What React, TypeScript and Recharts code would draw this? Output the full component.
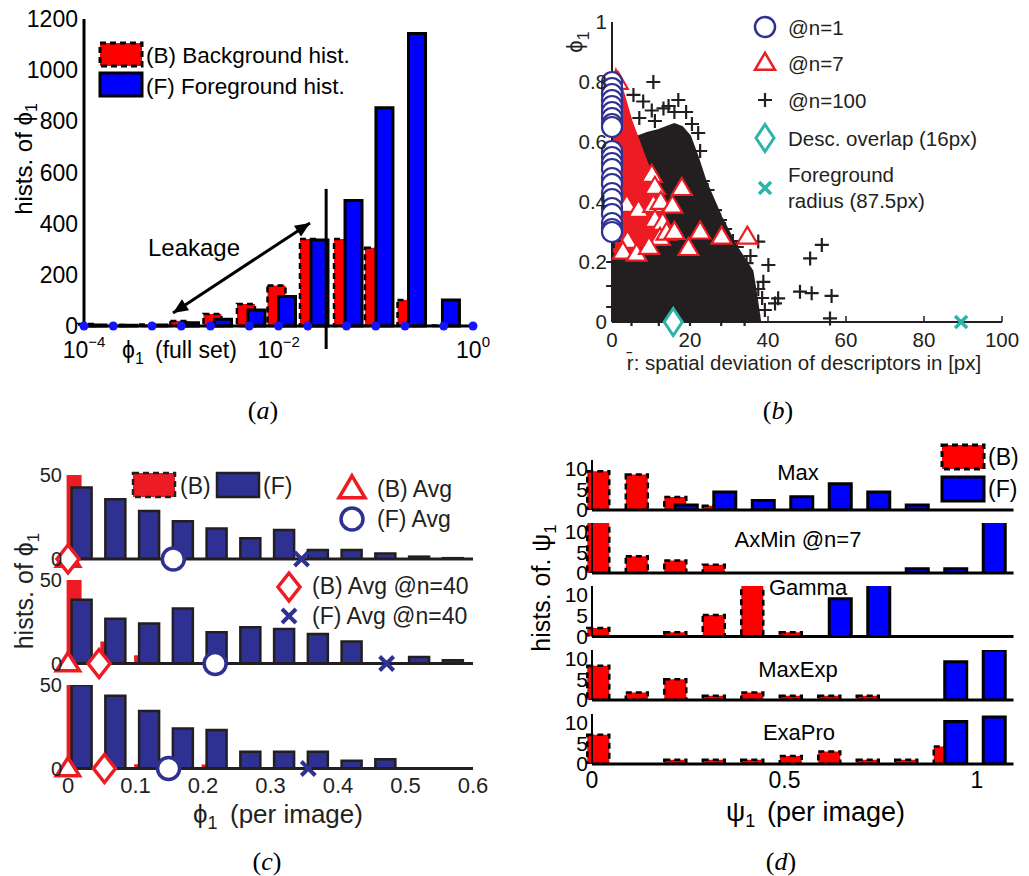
import React from 'react';
import { ComposedChart, Bar, XAxis, YAxis, Scatter, ReferenceLine, Area } from 'recharts';

const SANS = '"Liberation Sans", Arial, "DejaVu Sans", sans-serif';
const SERIF = '"Liberation Serif", "DejaVu Serif", serif';
const INK = '#231f20';
const NAVY = '#2e3192';
const RED = '#ed1c24';
const CYAN = '#2bb5a9';

// ---------- (a) full set, x in log10 units ----------
const aBinX = [-3.918, -3.599, -3.29, -2.967, -2.627, -2.283, -1.969, -1.635, -1.285, -0.967, -0.632, -0.283];
const aBack = [8, 4, 6, 20, 47, 86, 158, 340, 340, 306, 102, 2];
const aFore = [4, 3, 4, 13, 26, 63, 115, 336, 491, 853, 1143, 102];
const aEdges = [-4, -3.699, -3.301, -3, -2.699, -2.301, -2, -1.699, -1.301, -1, -0.699, -0.301, 0];
const aXTicks = [-4, -2, 0];
const aYTicks = [0, 200, 400, 600, 800, 1000, 1200];
const aSplit = { x: -1.51, top: 536, bottom: -90 };
const aArrow = { x1: -3.085, y1: 51, x2: -1.676, y2: 403 };

// ---------- (b) phi vs spatial deviation ----------
const bXTicks = [0, 20, 40, 60, 80, 100];
const bYTicks = [0, 0.2, 0.4, 0.6, 0.8, 1];
const bRingY = [0.8, 0.78, 0.76, 0.74, 0.72, 0.7, 0.68, 0.66, 0.65, 0.57, 0.55, 0.53, 0.51, 0.48, 0.46, 0.43, 0.41, 0.38, 0.36, 0.33, 0.31, 0.3];
// dense cloud of @n=100 (upper edge) and the dense @n=7 core (low, high)
const bCloudX = [0, 1, 3, 5, 7, 9, 12, 14, 16, 18, 20, 22, 24, 26, 28, 30, 32, 34, 36, 37, 38];
const bCloudY = [0.3, 0.6, 0.6, 0.61, 0.62, 0.63, 0.64, 0.65, 0.66, 0.65, 0.62, 0.55, 0.47, 0.41, 0.35, 0.3, 0.25, 0.21, 0.17, 0.09, 0];
const bCoreLo = [0.24, 0.23, 0.23, 0.24, 0.25, 0.26, 0.27, 0.28];
const bCoreHi = [0.8, 0.84, 0.76, 0.67, 0.6, 0.53, 0.45, 0.33];
const bTri: [number, number][] = [
  [1.5, 0.8], [10.2, 0.49], [11, 0.45], [3.8, 0.39], [6.8, 0.373], [10.6, 0.39], [12.5, 0.4], [15.5, 0.387],
  [17.9, 0.446], [11, 0.34], [13, 0.33], [12.3, 0.28], [14, 0.297], [16, 0.3], [4, 0.27], [2.8, 0.234],
  [6.3, 0.227], [9.5, 0.25], [22.6, 0.301], [28.1, 0.284], [34.7, 0.284], [19.6, 0.246],
];
const bPlus: [number, number][] = [
  [10.6, 0.8], [5.5, 0.757], [8, 0.735], [17, 0.74], [14.5, 0.72], [13.2, 0.712], [10.2, 0.705], [19, 0.7],
  [16, 0.7], [7, 0.68], [11, 0.67], [20.5, 0.66], [22.1, 0.63], [22.6, 0.57], [20.4, 0.53], [23.3, 0.47],
  [24.5, 0.44], [26.4, 0.373], [27.7, 0.34], [29, 0.31], [31, 0.27], [32, 0.25], [34.5, 0.196], [35.5, 0.22],
  [37.5, 0.268], [40.1, 0.19], [38.8, 0.134], [37.5, 0.11], [39.2, 0.04], [36.2, 0.023], [41.8, 0.062],
  [42.6, 0.079], [48.2, 0.101], [51.2, 0.096], [56.3, 0.087], [55.9, 0.012], [50.8, 0.212], [53.8, 0.257],
  [38.5, 0.08], [0.3, 0.05], [0.3, 0.12], [0.3, 0.2], [0.5, 0.27], [5, 0.01], [12, 0.01], [20, 0.01],
  [28, 0.01], [34, 0.01],
];
const bOverlap = 15.7;
const bRadius = 89.5;

// ---------- (c) per image, three rows ----------
const cBinX = [0.017, 0.067, 0.117, 0.167, 0.217, 0.267, 0.317, 0.367, 0.417, 0.467, 0.517, 0.567];
const cXTicks = [0, 0.1, 0.2, 0.3, 0.4, 0.5, 0.6];
const cBack = [
  [60, 0, 0, 0, 0, 0, 0, 0, 0, 0, 0, 0],
  [60, 13.2, 4.9, 0, 0, 0, 0, 0, 0, 0, 0, 0],
  [60, 7, 2.6, 0, 2.4, 0, 0, 0, 0, 0, 0, 0],
];
const cFore = [
  [42.6, 35.5, 28.6, 22.4, 18.2, 12.3, 17.3, 5.4, 5.4, 3.3, 1.4, 0.5],
  [38.2, 26.8, 24, 32.9, 18.7, 21.7, 20.7, 17.7, 13.2, 0, 3.9, 2],
  [50, 43.6, 34.4, 24, 23, 10, 10, 10, 4.6, 5.6, 0, 0],
];
const cAvgB = [0, 0, 0];
const cAvgF = [0.156, 0.218, 0.149];
const cAvgB40 = [0, 0.046, 0.054];
const cAvgF40 = [0.346, 0.472, 0.356];

// ---------- (d) psi per image, five methods ----------
const dBinX = [0.03, 0.13, 0.23, 0.33, 0.43, 0.53, 0.63, 0.73, 0.83, 0.93, 1.03];
const dTitles = ['Max', 'AxMin @n=7', 'Gamma', 'MaxExp', 'ExaPro'];
const dBack = [
  [9.3, 8.5, 3.1, 1, 0, 0, 0, 0, 0, 0, 0],
  [13, 4, 3, 2, 0, 0, 0, 0, 0, 0, 0],
  [2, 0, 1, 5.1, 13, 1, 0, 0, 0, 0, 0],
  [8.2, 1.8, 5, 1, 1.8, 1, 1, 1, 0, 0, 0],
  [7, 0, 1, 1, 1, 1.9, 3, 1, 1, 4.2, 0],
];
const dFore = [
  [0, 0, 1.2, 4.3, 2.3, 3.2, 6.3, 4.3, 1.2, 0, 0],
  [0, 0, 0, 0, 0, 0, 0, 0, 1, 1, 13],
  [0, 0, 0, 0, 0, 0, 9, 13, 0, 0, 0],
  [0, 0, 0, 0, 0, 0, 0, 0, 0, 9.2, 12],
  [0, 0, 0, 0, 0, 0, 0, 0, 0, 10.2, 11.3],
];
const dXTicks = [0, 0.5, 1];
const dYTicks = [0, 5, 10];

// layout of the stacked rows (px)
const cTop = [474.5, 580, 685];
const cBot = [558.5, 663.5, 768.5];
const dTop = [459.5, 522.5, 586, 650, 714];
const dBot = [509.5, 572.5, 636.5, 700, 764];

const triPts = (cx: number, cy: number, w: number, h: number) =>
  `${cx},${cy - h * 0.6} ${cx + w / 2},${cy + h * 0.4} ${cx - w / 2},${cy + h * 0.4}`;
const diaPts = (cx: number, cy: number, w: number, h: number) =>
  `${cx},${cy - h / 2} ${cx + w / 2},${cy} ${cx},${cy + h / 2} ${cx - w / 2},${cy}`;
const crossD = (cx: number, cy: number, s: number) =>
  `M${cx - s},${cy - s}L${cx + s},${cy + s}M${cx - s},${cy + s}L${cx + s},${cy - s}`;
const plusD = (cx: number, cy: number, s: number) => `M${cx - s},${cy}H${cx + s}M${cx},${cy - s}V${cy + s}`;

const Dot = (p: any) => <circle cx={p.cx} cy={p.cy} r={4.5} fill="#1414ff" />;
const PlusB = (p: any) => <path d={plusD(p.cx, p.cy, 7)} stroke={INK} strokeWidth={2.2} fill="none" />;
const TriB = (p: any) => <polygon points={triPts(p.cx, p.cy, 20, 17)} fill="#fff" stroke={RED} strokeWidth={2.2} />;
const RingB = (p: any) => <circle cx={p.cx} cy={p.cy} r={10} fill="#fff" stroke={NAVY} strokeWidth={2.2} />;
const DiaB = (p: any) => <polygon points={diaPts(p.cx, p.cy, 18, 27)} fill="#fff" stroke={CYAN} strokeWidth={3} />;
const CrossB = (p: any) => <path d={crossD(p.cx, p.cy, 6)} stroke={CYAN} strokeWidth={3.5} fill="none" />;
const TriC = (p: any) => <polygon points={triPts(p.cx, p.cy, 23, 18)} fill="#fff" stroke={RED} strokeWidth={3.5} />;
const DiaC = (p: any) => <polygon points={diaPts(p.cx, p.cy, 22, 28)} fill="#fff" stroke={RED} strokeWidth={3.5} />;
const RingC = (p: any) => <circle cx={p.cx} cy={p.cy} r={11} fill="#fff" stroke={NAVY} strokeWidth={3.5} />;
const CrossC = (p: any) => <path d={crossD(p.cx, p.cy, 7)} stroke={NAVY} strokeWidth={4} fill="none" />;

function ArrowShape(p: any) {
  const { x1, y1, x2, y2 } = p;
  const a = Math.atan2(y2 - y1, x2 - x1);
  const head = (x: number, y: number, ang: number) => {
    const L = 15, W = 6.5;
    const bx = x - L * Math.cos(ang), by = y - L * Math.sin(ang);
    return `${x},${y} ${bx + W * Math.sin(ang)},${by - W * Math.cos(ang)} ${bx - W * Math.sin(ang)},${by + W * Math.cos(ang)}`;
  };
  return (
    <g>
      <line x1={x1} y1={y1} x2={x2} y2={y2} stroke="#000" strokeWidth={3} />
      <polygon points={head(x2, y2, a)} fill="#000" />
      <polygon points={head(x1, y1, a + Math.PI)} fill="#000" />
    </g>
  );
}

function PowTick(p: any) {
  const e = String(p.payload.value).replace('-', '\u2212');
  return (
    <text x={p.x} y={p.y + 22} textAnchor="middle" fontFamily={SANS} fontSize={23} fill="#000">
      10<tspan dy={-11} fontSize={15}>{e}</tspan>
    </text>
  );
}

function Frame({ left, top, right, bottom, padL, padB, data, barGap, children }: any) {
  const padT = 14, padR = 14;
  return (
    <div style={{ position: 'absolute', left: left - padL, top: top - padT }}>
      <ComposedChart width={right - left + padL + padR} height={bottom - top + padT + padB} data={data}
        barGap={barGap} margin={{ top: padT, right: padR, left: 0, bottom: 0 }}>
        {children}
      </ComposedChart>
    </div>
  );
}

function PanelA() {
  const rows = aBinX.map((x, i) => ({ x, back: aBack[i], fore: aFore[i] }));
  const edges = aEdges.map((x) => ({ x, y: 0 }));
  return (
    <Frame left={84} top={19} right={473} bottom={326} padL={84} padB={50} data={rows} barGap={-7}>
      <XAxis type="number" dataKey="x" domain={[-4, 0]} ticks={aXTicks} interval={0} height={50}
        tickLine={false} tickSize={0} tickMargin={10} tick={(p: any) => <PowTick {...p} />}
        axisLine={{ stroke: '#000', strokeWidth: 3 }} />
      <XAxis xAxisId="m" type="number" dataKey="x" domain={[-4, 0]} hide />
      <YAxis type="number" domain={[0, 1200]} ticks={aYTicks} interval={0} width={84}
        tickLine={false} tickSize={0} tickMargin={6} tick={{ fill: '#000', fontSize: 23, fontFamily: SANS }}
        axisLine={{ stroke: '#000', strokeWidth: 3 }} />
      <YAxis yAxisId="m" type="number" dataKey="y" domain={[0, 1200]} hide />
      <Bar dataKey="back" barSize={18} fill="#ff0000" stroke="#000" strokeWidth={2.5} strokeDasharray="6 4" isAnimationActive={false} />
      <Bar dataKey="fore" barSize={17} fill="#0000ff" stroke="#000" strokeWidth={3} isAnimationActive={false} />
      <Scatter xAxisId="m" yAxisId="m" data={edges} dataKey="y" shape={Dot} isAnimationActive={false} />
      <ReferenceLine segment={[{ x: aSplit.x, y: aSplit.top }, { x: aSplit.x, y: aSplit.bottom }]}
        stroke="#000" strokeWidth={3} ifOverflow="visible" />
      <ReferenceLine segment={[{ x: aArrow.x1, y: aArrow.y1 }, { x: aArrow.x2, y: aArrow.y2 }]}
        ifOverflow="visible" shape={ArrowShape} />
    </Frame>
  );
}

function PanelB() {
  const rows = bCloudX.map((x, i) => ({
    x,
    cloud: bCloudY[i],
    core: i < bCoreLo.length ? [bCoreLo[i], bCoreHi[i]] : undefined,
  }));
  const toPts = (list: [number, number][]) => list.map(([x, y]) => ({ x, y }));
  const tick = { fill: INK, fontSize: 20.5, fontFamily: SANS };
  return (
    <Frame left={612} top={22} right={1002} bottom={322} padL={50} padB={34} data={rows}>
      <XAxis type="number" dataKey="x" domain={[0, 100]} ticks={bXTicks} interval={0} height={34}
        tickSize={-6} tickMargin={16} tickLine={{ stroke: INK, strokeWidth: 1.5 }} tick={tick}
        axisLine={{ stroke: INK, strokeWidth: 2 }} />
      <YAxis type="number" domain={[0, 1]} ticks={bYTicks} interval={0} width={50}
        tickLine={false} tickSize={0} tickMargin={5} tick={tick} axisLine={{ stroke: INK, strokeWidth: 2 }} />
      <YAxis yAxisId="m" type="number" dataKey="y" domain={[0, 1]} hide />
      <Area dataKey="cloud" type="linear" fill={INK} fillOpacity={1} stroke={INK} strokeWidth={2}
        dot={false} activeDot={false} isAnimationActive={false} />
      <Scatter yAxisId="m" data={toPts(bPlus)} dataKey="y" shape={PlusB} isAnimationActive={false} />
      <Area dataKey="core" type="linear" fill={RED} fillOpacity={1} stroke={RED} strokeWidth={2}
        dot={false} activeDot={false} isAnimationActive={false} />
      <Scatter yAxisId="m" data={toPts(bTri)} dataKey="y" shape={TriB} isAnimationActive={false} />
      <Scatter yAxisId="m" data={bRingY.map((y) => ({ x: 0, y }))} dataKey="y" shape={RingB} isAnimationActive={false} />
      <Scatter yAxisId="m" data={[{ x: bOverlap, y: 0 }]} dataKey="y" shape={DiaB} isAnimationActive={false} />
      <Scatter yAxisId="m" data={[{ x: bRadius, y: 0 }]} dataKey="y" shape={CrossB} isAnimationActive={false} />
    </Frame>
  );
}

function PanelC() {
  const tick = { fill: INK, fontSize: 22, fontFamily: SANS };
  return (
    <>
      {cTop.map((top, i) => {
        const rows = cBinX.map((x, j) => ({ x, back: cBack[i][j], fore: cFore[i][j] }));
        const last = i === cTop.length - 1;
        return (
          <Frame key={i} left={68} top={top} right={473} bottom={cBot[i]} padL={50} padB={last ? 34 : 10}
            data={rows} barGap={-10}>
            <XAxis type="number" dataKey="x" domain={[0, 0.6]} ticks={cXTicks} interval={0} height={last ? 34 : 10}
              tickLine={false} tickSize={0} tickMargin={9} tick={last ? tick : false}
              axisLine={{ stroke: INK, strokeWidth: 3 }} />
            <XAxis xAxisId="m" type="number" dataKey="x" domain={[0, 0.6]} hide />
            <YAxis type="number" domain={[0, 50]} allowDataOverflow ticks={[0, 50]} interval={0} width={50}
              tickLine={false} tickSize={0} tickMargin={6} tick={{ ...tick, fontSize: 20 }} axisLine={false} />
            <YAxis yAxisId="m" type="number" dataKey="y" domain={[0, 50]} hide />
            <Bar dataKey="back" barSize={15} fill={RED} isAnimationActive={false} />
            <Bar dataKey="fore" barSize={20} fill={NAVY} stroke={INK} strokeWidth={2.5} isAnimationActive={false} />
            <Scatter xAxisId="m" yAxisId="m" data={[{ x: cAvgB[i], y: 0 }]} dataKey="y" shape={TriC} isAnimationActive={false} />
            <Scatter xAxisId="m" yAxisId="m" data={[{ x: cAvgB40[i], y: 0 }]} dataKey="y" shape={DiaC} isAnimationActive={false} />
            <Scatter xAxisId="m" yAxisId="m" data={[{ x: cAvgF[i], y: 0 }]} dataKey="y" shape={RingC} isAnimationActive={false} />
            <Scatter xAxisId="m" yAxisId="m" data={[{ x: cAvgF40[i], y: 0 }]} dataKey="y" shape={CrossC} isAnimationActive={false} />
          </Frame>
        );
      })}
    </>
  );
}

function PanelD() {
  const tick = { fill: '#000', fontSize: 21, fontFamily: SANS };
  return (
    <>
      {dTop.map((top, i) => {
        const rows = dBinX.map((x, j) => ({ x, back: dBack[i][j], fore: dFore[i][j] }));
        const last = i === dTop.length - 1;
        return (
          <Frame key={i} left={592} top={top} right={1013.5} bottom={dBot[i]} padL={40} padB={last ? 34 : 8}
            data={rows} barGap={-11}>
            <XAxis type="number" dataKey="x" domain={[0, 1.095]} ticks={dXTicks} interval={0} height={last ? 34 : 8}
              tickLine={false} tickSize={0} tickMargin={8} tick={last ? { ...tick, fontSize: 23 } : false}
              axisLine={{ stroke: '#000', strokeWidth: 3 }} />
            <YAxis type="number" domain={[0, 12]} allowDataOverflow ticks={dYTicks} interval={0} width={40}
              tickLine={false} tickSize={0} tickMargin={4} tick={tick} axisLine={{ stroke: '#000', strokeWidth: 2 }} />
            <Bar dataKey="back" barSize={22} fill="#ff0000" stroke="#000" strokeWidth={2.5} strokeDasharray="6 4" isAnimationActive={false} />
            <Bar dataKey="fore" barSize={22} fill="#0000ff" stroke="#000" strokeWidth={3} isAnimationActive={false} />
          </Frame>
        );
      })}
    </>
  );
}

function T({ x, y, size = 23, anchor = 'start', fill = '#000', rotate, family = SANS, children }: any) {
  return (
    <text x={x} y={y} fontSize={size} textAnchor={anchor} fill={fill} fontFamily={family} dominantBaseline="central"
      transform={rotate ? `rotate(${rotate} ${x} ${y})` : undefined}>
      {children}
    </text>
  );
}

function Caption({ x, y, letter }: any) {
  return (
    <T x={x} y={y} size={26} anchor="middle" family={SERIF}>
      (<tspan fontStyle="italic">{letter}</tspan>)
    </T>
  );
}

function Overlay() {
  return (
    <svg width={1029} height={876} style={{ position: 'absolute', left: 0, top: 0, pointerEvents: 'none' }}>
      {/* (a) */}
      <rect x={100} y={43} width={42} height={23} fill="#ff0000" stroke="#000" strokeWidth={3} strokeDasharray="6 4" />
      <T x={146} y={55} size={22.5}>(B) Background hist.</T>
      <rect x={100} y={73} width={42} height={23} fill="#0000ff" stroke="#000" strokeWidth={3} />
      <T x={146} y={86} size={22.5}>(F) Foreground hist.</T>
      <T x={194} y={247} size={24} anchor="middle">Leakage</T>
      <T x={23} y={159} size={24} anchor="middle" rotate={-90}>hists. of ϕ<tspan dy={8} fontSize={16}>1</tspan></T>
      <T x={122} y={350}>ϕ<tspan dy={8} fontSize={16}>1</tspan><tspan x={155} dy={-8}>(full set)</tspan></T>
      <Caption x={263} y={410} letter="a" />

      {/* (b) */}
      <circle cx={765} cy={27} r={10} fill="#fff" stroke={NAVY} strokeWidth={2.5} />
      <T x={788} y={27} size={20.5} fill={INK}>@n=1</T>
      <polygon points={triPts(765, 63, 20, 17)} fill="#fff" stroke={RED} strokeWidth={2.5} />
      <T x={788} y={63} size={20.5} fill={INK}>@n=7</T>
      <path d={plusD(765, 100, 7)} stroke={INK} strokeWidth={2.2} />
      <T x={788} y={100} size={20.5} fill={INK}>@n=100</T>
      <polygon points={diaPts(765, 138, 18, 27)} fill="#fff" stroke={CYAN} strokeWidth={3} />
      <T x={788} y={138} size={20.5} fill={INK}>Desc. overlap (16px)</T>
      <path d={crossD(765, 188, 6)} stroke={CYAN} strokeWidth={3.5} />
      <T x={788} y={174} size={20.5} fill={INK}>Foreground</T>
      <T x={788} y={200} size={20.5} fill={INK}>radius (87.5px)</T>
      <T x={574} y={42} size={22} anchor="middle" fill={INK} rotate={-90}>ϕ<tspan dy={9} fontSize={16}>1</tspan></T>
      <T x={804} y={362} size={20.5} anchor="middle" fill={INK}>r̄: spatial deviation of descriptors in [px]</T>
      <Caption x={778} y={410} letter="b" />

      {/* (c) */}
      <rect x={133} y={473} width={42} height={24} fill={RED} stroke={INK} strokeWidth={2.5} strokeDasharray="6 4" />
      <T x={180} y={486} fill={INK}>(B)</T>
      <rect x={217} y={473} width={42} height={24} fill={NAVY} stroke={INK} strokeWidth={2.5} />
      <T x={263} y={486} fill={INK}>(F)</T>
      <polygon points={triPts(352, 489, 26, 22)} fill="#fff" stroke={RED} strokeWidth={3.5} />
      <T x={377} y={489} fill={INK}>(B) Avg</T>
      <circle cx={352} cy={519} r={11} fill="#fff" stroke={NAVY} strokeWidth={3.5} />
      <T x={377} y={519} fill={INK}>(F) Avg</T>
      <polygon points={diaPts(289, 587, 22, 28)} fill="#fff" stroke={RED} strokeWidth={3.5} />
      <T x={312} y={586} fill={INK}>(B) Avg @n=40</T>
      <path d={crossD(289, 616, 7)} stroke={NAVY} strokeWidth={4} />
      <T x={312} y={616} fill={INK}>(F) Avg @n=40</T>
      <T x={24} y={591} size={25} anchor="middle" fill={INK} rotate={-90}>hists. of ϕ<tspan dy={9} fontSize={17}>1</tspan></T>
      <T x={193} y={814} size={26} fill={INK}>ϕ<tspan dy={9} fontSize={18}>1</tspan><tspan x={230} dy={-9}>(per image)</tspan></T>
      <Caption x={267} y={861} letter="c" />

      {/* (d) */}
      <rect x={942} y={445} width={42} height={24} fill="#ff0000" stroke="#000" strokeWidth={3} strokeDasharray="6 4" />
      <T x={988} y={457}>(B)</T>
      <rect x={942} y={477} width={42} height={24} fill="#0000ff" stroke="#000" strokeWidth={3} />
      <T x={988} y={489}>(F)</T>
      <T x={798} y={472} size={22} anchor="middle">{dTitles[0]}</T>
      <T x={798} y={539} size={22} anchor="middle">{dTitles[1]}</T>
      <T x={808} y={587} size={22} anchor="middle">{dTitles[2]}</T>
      <T x={798} y={669} size={22} anchor="middle">{dTitles[3]}</T>
      <T x={799} y={732} size={22} anchor="middle">{dTitles[4]}</T>
      <T x={541} y={588} size={25} anchor="middle" rotate={-90}>hists. of. ψ<tspan dy={9} fontSize={17}>1</tspan></T>
      <T x={726} y={812} size={27}>ψ<tspan dy={9} fontSize={18}>1</tspan><tspan x={767} dy={-9}>(per image)</tspan></T>
      <Caption x={781} y={861} letter="d" />
    </svg>
  );
}

export default function App() {
  return (
    <div style={{ position: 'relative', width: 1029, height: 876, background: '#fff', overflow: 'hidden' }}>
      <style>{'body{margin:0} .recharts-surface{overflow:visible}'}</style>
      <PanelA />
      <PanelB />
      <PanelC />
      <PanelD />
      <Overlay />
    </div>
  );
}
